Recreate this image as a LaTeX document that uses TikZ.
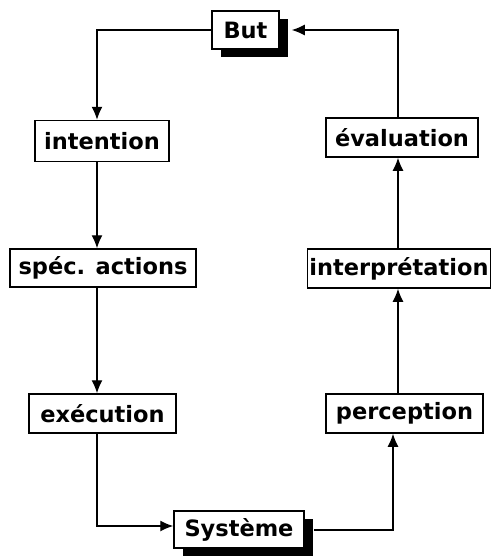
\documentclass[tikz,border=0pt]{standalone}
\usepackage{fontspec}
\setmainfont{DejaVu Sans}
\usetikzlibrary{arrows.meta,shadows}
\begin{document}
\begin{tikzpicture}[x=1pt,y=-1pt,
  box/.style={draw,line width=1.5pt,fill=white,inner sep=0pt,minimum height=39pt,
    font=\fontsize{22.5}{27}\selectfont\bfseries},
  shbox/.style={box,drop shadow={shadow xshift=9pt,shadow yshift=-8pt,opacity=1,fill=black}},
  conn/.style={line width=1.3pt},
  arr/.style={conn,-{Latex[length=13pt,width=11pt]}}]
\useasboundingbox (0,0) rectangle (492,558);
\coordinate (L) at (97,0);
\coordinate (R) at (398,0);
\coordinate (R2) at (393,0);
\node[shbox,minimum width=67pt,minimum height=38pt] (but) at (245.5,30) {But};
\node[box,minimum width=134pt,minimum height=41pt] (intention) at (102,141) {intention};
\node[box,minimum width=186pt,minimum height=38pt] (spec) at (103,268) {spéc. actions};
\node[box,minimum width=147pt] (exec) at (102.5,413.5) {exécution};
\node[shbox,minimum width=130pt,minimum height=37pt] (sys) at (239,529.5) {Système};
\node[box,minimum width=152pt] (eval) at (402,137.5) {évaluation};
\node[box,minimum width=183pt] (interp) at (399,268.5) {interprétation};
\node[box,minimum width=157pt] (perc) at (404.5,413.5) {perception};
\draw[arr] (but.west) -| (L |- intention.north);
\draw[arr] (L |- intention.south) -- (L |- spec.north);
\draw[arr] (L |- spec.south) -- (L |- exec.north);
\draw[arr] (L |- exec.south) |- ([yshift=3.5pt]sys.west);
\draw[arr] ([xshift=9pt,yshift=-0.5pt]sys.east) -| (R2 |- perc.south);
\draw[arr] (R |- perc.north) -- (R |- interp.south);
\draw[arr] (R |- interp.north) -- (R |- eval.south);
\draw[arr] (R |- eval.north) |- ([xshift=12pt]but.east);
\end{tikzpicture}
\end{document}
